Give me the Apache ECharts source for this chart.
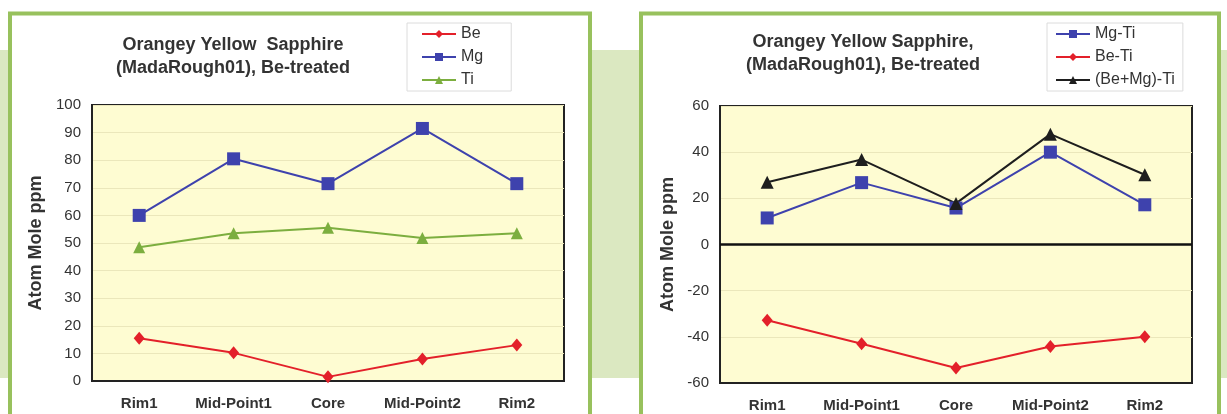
<!DOCTYPE html>
<html>
<head>
<meta charset="utf-8">
<script src="https://cdn.jsdelivr.net/npm/echarts@6/dist/echarts.min.js"></script>
<style>
  html, body { margin: 0; padding: 0; background: #fff; }
  #chart { width: 1227px; height: 414px; }
</style>
</head>
<body>
<div id="chart"></div>
<script>
var points = ['Rim1', 'Mid-Point1', 'Core', 'Mid-Point2', 'Rim2']

// left panel: element concentrations
var be = [15.5, 10.2, 1.5, 8, 13]
var mg = [60, 80.5, 71.5, 91.5, 71.5]
var ti = [48.5, 53.5, 55.5, 51.8, 53.5]

// right panel: differences
var mgTi = [11.5, 26.8, 15.8, 40, 17.2]
var beTi = [-32.8, -43, -53.5, -44.2, -40]
var bemgTi = [27, 36.8, 17.8, 47.8, 30.2]

var font = 'Liberation Sans, Arial, sans-serif'
var plotBg = '#fefcd2'
var gridLine = '#ebe7bb'
var frameGreen = '#98c15d'

function xAx(idx) {
    return {
        type: 'category',
        gridIndex: idx,
        data: points,
        axisLine: { onZero: false, lineStyle: { color: '#222', width: 2 } },
        axisTick: { show: false },
        axisLabel: { interval: 0, color: '#333', fontSize: 15, fontWeight: 'bold', fontFamily: font, margin: 15 }
    }
}
function yAx(idx, min, max, step, gap) {
    return {
        type: 'value',
        gridIndex: idx,
        min: min,
        max: max,
        interval: step,
        name: 'Atom Mole ppm',
        nameLocation: 'middle',
        nameGap: gap,
        nameTextStyle: { color: '#333', fontSize: 18, fontWeight: 'bold', fontFamily: font },
        axisLine: { show: true, lineStyle: { color: '#222', width: 2 } },
        axisTick: { show: false },
        splitLine: { lineStyle: { color: gridLine, width: 1 } },
        axisLabel: { color: '#333', fontSize: 15, fontFamily: font, margin: 11 }
    }
}
function lineSer(name, data, idx, color, symbol, size) {
    return {
        name: name,
        type: 'line',
        xAxisIndex: idx,
        yAxisIndex: idx,
        data: data,
        symbol: symbol,
        symbolSize: size,
        itemStyle: { color: color },
        lineStyle: { color: color, width: 2 },
        animation: false
    }
}

var option = {
    animation: false,
    graphic: [
        { type: 'rect', z: -10, shape: { x: 0, y: 50, width: 1227, height: 328 }, style: { fill: '#dbe8c1' } },
        { type: 'rect', z: -9, shape: { x: 10, y: 13.5, width: 580, height: 430 }, style: { fill: '#fff', stroke: frameGreen, lineWidth: 4 } },
        { type: 'rect', z: -9, shape: { x: 641, y: 13.5, width: 578, height: 430 }, style: { fill: '#fff', stroke: frameGreen, lineWidth: 4 } }
    ],
    title: [
        {
            text: 'Orangey Yellow  Sapphire\n(MadaRough01), Be-treated',
            left: 233, top: 34, padding: 0, textAlign: 'center',
            textStyle: { color: '#333', fontSize: 18, fontWeight: 'bold', fontFamily: font, lineHeight: 23 }
        },
        {
            text: 'Orangey Yellow Sapphire,\n(MadaRough01), Be-treated',
            left: 863, top: 31, padding: 0, textAlign: 'center',
            textStyle: { color: '#333', fontSize: 18, fontWeight: 'bold', fontFamily: font, lineHeight: 23 }
        }
    ],
    legend: [
        {
            data: ['Be', 'Mg', 'Ti'],
            orient: 'vertical', left: 407, top: 23,
            padding: [3, 28, 3, 14],
            itemWidth: 34, itemHeight: 10, itemGap: 7,
            borderColor: '#dcdcdc', borderWidth: 1,
            textStyle: { color: '#333', fontSize: 16, fontFamily: font, lineHeight: 16 }
        },
        {
            data: ['Mg-Ti', 'Be-Ti', '(Be+Mg)-Ti'],
            orient: 'vertical', left: 1047, top: 23,
            padding: [3, 8, 3, 8],
            itemWidth: 34, itemHeight: 10, itemGap: 7,
            borderColor: '#dcdcdc', borderWidth: 1,
            textStyle: { color: '#333', fontSize: 16, fontFamily: font, lineHeight: 16 }
        }
    ],
    grid: [
        { left: 92, top: 105, width: 472, height: 276, show: true, backgroundColor: plotBg, borderColor: '#222', borderWidth: 2 },
        { left: 720, top: 106, width: 472, height: 277, show: true, backgroundColor: plotBg, borderColor: '#222', borderWidth: 2 }
    ],
    xAxis: [xAx(0), xAx(1)],
    yAxis: [yAx(0, 0, 100, 10, 47), yAx(1, -60, 60, 20, 43)],
    series: [
        lineSer('Be', be, 0, '#e3202a', 'diamond', [11, 13]),
        lineSer('Mg', mg, 0, '#3e42ad', 'rect', 13),
        lineSer('Ti', ti, 0, '#7cae3f', 'triangle', 12),
        Object.assign(lineSer('Mg-Ti', mgTi, 1, '#3e42ad', 'rect', 13), {
            markLine: {
                silent: true, symbol: 'none', label: { show: false },
                lineStyle: { color: '#111', width: 2.5, type: 'solid' },
                data: [{ yAxis: 0 }]
            }
        }),
        lineSer('Be-Ti', beTi, 1, '#e3202a', 'diamond', [11, 13]),
        lineSer('(Be+Mg)-Ti', bemgTi, 1, '#1e1e1e', 'triangle', 13)
    ]
}

var myChart = echarts.init(document.getElementById('chart'))
myChart.setOption(option)
</script>
</body>
</html>
